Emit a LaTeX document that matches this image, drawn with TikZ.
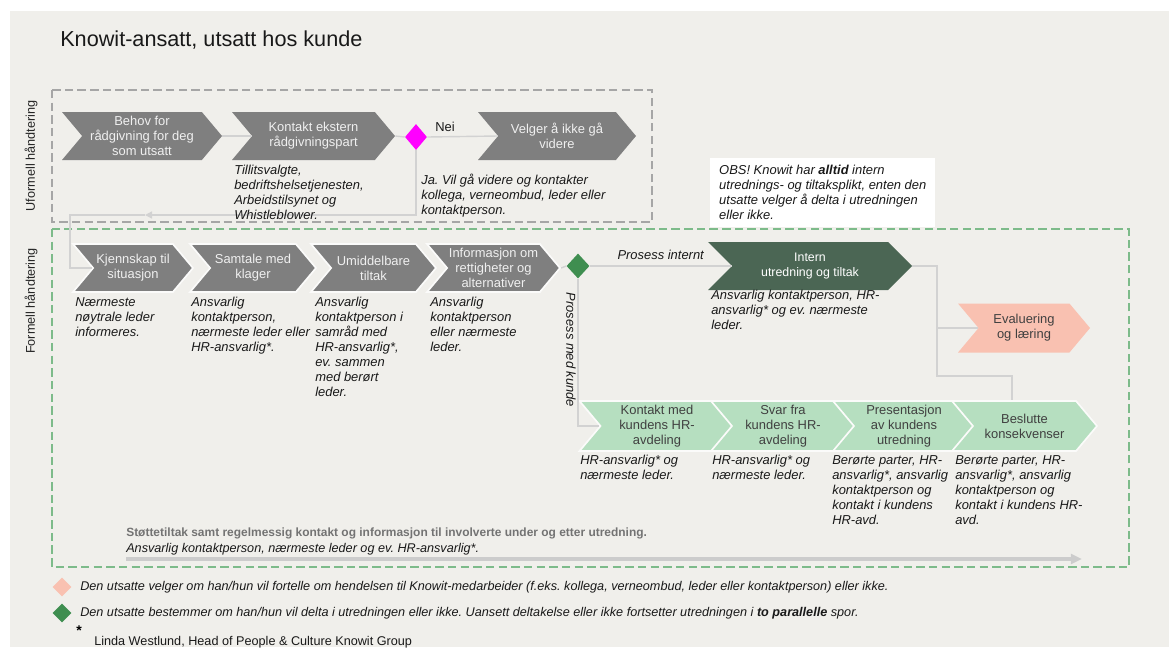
\documentclass[tikz,border=0pt]{standalone}
\usepackage{fontspec}
\setmainfont{Liberation Sans}
\usetikzlibrary{arrows.meta, shapes.symbols, shapes.geometric}
\frenchspacing

\definecolor{slide}{HTML}{F0EFEB}
\definecolor{chevgray}{HTML}{7F7F7F}
\definecolor{linegray}{HTML}{D2D2D2}
\definecolor{boxgray}{HTML}{A6A6A6}
\definecolor{boxgreen}{HTML}{7DBB8A}
\definecolor{darkgreen}{HTML}{4B6654}
\definecolor{mint}{HTML}{B6DFC0}
\definecolor{salmon}{HTML}{F9C1B1}
\definecolor{diagreen}{HTML}{3F8E50}
\definecolor{pink}{HTML}{FF00FF}

\def\pxu{0.025cm}
\newcommand{\boxfont}{\fontsize{9.2}{10.7}\selectfont}

\tikzset{
    chev/.style={shape=signal, signal from=west, signal to=east, signal pointer angle=100, minimum height=48*\pxu, inner sep=0pt, align=center, font=\boxfont}, % 定义箭头块的样式
    greychev/.style={chev, fill=chevgray, text=white!94!black},
    rowchev/.style={draw=white!75!slide, line width=1.2pt}, % 相邻箭头块之间的白色缝隙
    mintchev/.style={chev, rowchev, fill=mint, text=black!75, minimum height=50*\pxu},
    choice/.style={shape=diamond, inner sep=0pt, minimum width=23*\pxu, minimum height=25*\pxu}, % 定义菱形判断点
    flow/.style={draw=linegray, line width=1pt},
    note/.style={anchor=north west, inner sep=0pt, align=left, font=\boxfont\itshape, text=black!90}, % 定义说明文字的样式
    keytext/.style={anchor=west, inner sep=0pt, font=\fontsize{9}{11}\selectfont\itshape, text=black!90},
    sidelabel/.style={rotate=90, font=\fontsize{9}{11}\selectfont, text=black!85},
    dashbox/.style={dash pattern=on 6pt off 3pt, line width=1.1pt}
}

\begin{document}
\begin{tikzpicture}[x=\pxu, y=-\pxu]
    \def\W{1169} \def\H{647}
    \fill[white] (0,0) rectangle (\W,\H);
    \fill[slide] (10,11) rectangle (\W,\H);
    \useasboundingbox (0,0) rectangle (\W,\H);

    \node[anchor=west, inner sep=0pt, font=\fontsize{15.4}{18}\selectfont, text=black!90] (title) at (60,40) {Knowit-ansatt, utsatt hos kunde};

    \draw[dashbox, draw=boxgray] (52,90) rectangle (652,222);
    \draw[dashbox, draw=boxgreen] (52,229) rectangle (1129,567);
    \node[sidelabel] (informal) at (31,156) {Uformell håndtering};
    \node[sidelabel] (formal) at (31,301) {Formell håndtering};

    \node[greychev, minimum width=160*\pxu] (need) at (142,136) {Behov for\\rådgivning for deg\\som utsatt};
    \node[greychev, minimum width=163*\pxu] (ext) at (313.5,136) {Kontakt ekstern\\rådgivningspart};
    \node[choice, fill=pink, minimum height=26*\pxu, minimum width=22*\pxu] (tell) at (416,137) {};
    \node[greychev, minimum width=158*\pxu] (stop) at (557,136) {Velger å ikke gå\\videre};
    \node[font=\boxfont, text=black!90] (no) at (445,127) {Nei};

    \foreach \nm/\cx/\w/\txt in {k1/133/120/{Kjennskap til\\situasjon}, k2/253/126/{Samtale med\\klager}, k3/373.5/125/{Umiddelbare\\tiltak}, k4/493.5/133/{Informasjon om\\rettigheter og\\alternativer}}
        {\node[greychev, rowchev, minimum width=\w*\pxu] (\nm) at (\cx,268) {\txt};}
    \node[choice, fill=diagreen] (part) at (578,266) {};

    \node[chev, fill=darkgreen, text=white, signal pointer angle=90, minimum width=204*\pxu, font=\fontsize{8.8}{10.5}\selectfont] (intern) at (810,266) {Intern\\utredning og tiltak};
    \node[chev, fill=salmon, text=black!75, minimum width=132*\pxu, minimum height=49*\pxu] (eval) at (1024,328) {Evaluering\\og læring};

    \foreach \nm/\cx/\w/\txt in {l1/657/155/{Kontakt med\\kundens HR-\\avdeling}, l2/783/144/{Svar fra\\kundens HR-\\avdeling}, l3/904/142/{Presentasjon\\av kundens\\utredning}, l4/1024.5/145/{Beslutte\\konsekvenser}}
        {\node[mintchev, minimum width=\w*\pxu] (\nm) at (\cx,426) {\txt};}

    \coordinate (back) at (145,215);
    \coordinate (turn) at (70,268);
    \coordinate (fork) at (937,328);
    \coordinate (merge) at (1012,376);
    \draw[flow] (need.east) -- (ext.west);
    \draw[flow] (ext.east) -- (tell.west);
    \draw[flow] (tell.east) -- (stop.west);
    \draw[flow, -{Triangle[length=5pt, width=5pt]}] (tell.south) |- (back);
    \draw[flow] (back) -| (turn) -- (k1.west);
    \draw[flow] (k4.east) -- (part.west);
    \draw[flow] (part.east) -- (intern.west) node[midway, above=1pt, font=\boxfont\itshape, text=black!90] (inside) {Prosess internt};
    \draw[flow] (part.south) |- (l1.west);
    \node[rotate=-90, font=\boxfont\itshape, text=black!90] (outside) at (571,350) {Prosess med kunde};
    \draw[flow] (intern.east) -| (fork) -- (eval.west);
    \draw[flow] (fork) |- (merge) -- (merge |- l4.north);

    \node[note] (extnote) at (234,165) {Tillitsvalgte,\\bedriftshelsetjenesten,\\Arbeidstilsynet og\\Whistleblower.};
    \node[note] (yesnote) at (421,174) {Ja. Vil gå videre og kontakter\\kollega, verneombud, leder eller\\kontaktperson.};

    \foreach \nm/\x/\txt in {n1/75/{Nærmeste\\nøytrale leder\\informeres.}, n2/191/{Ansvarlig\\kontaktperson,\\nærmeste leder eller\\HR-ansvarlig*.}, n3/315/{Ansvarlig\\kontaktperson i\\samråd med\\HR-ansvarlig*,\\ev. sammen\\med berørt\\leder.}, n4/430/{Ansvarlig\\kontaktperson\\eller nærmeste\\leder.}}
        {\node[note] (\nm) at (\x,297) {\txt};}
    \node[note] (internnote) at (711,290) {Ansvarlig kontaktperson, HR-\\ansvarlig* og ev. nærmeste\\leder.};
    \foreach \nm/\x/\txt in {m1/580/{HR-ansvarlig* og\\nærmeste leder.}, m2/712/{HR-ansvarlig* og\\nærmeste leder.}, m3/832/{Berørte parter, HR-\\ansvarlig*, ansvarlig\\kontaktperson og\\kontakt i kundens\\HR-avd.}, m4/955/{Berørte parter, HR-\\ansvarlig*, ansvarlig\\kontaktperson og\\kontakt i kundens HR-\\avd.}}
        {\node[note] (\nm) at (\x,455) {\txt};}

    \node[anchor=north west, fill=white, minimum width=225*\pxu, minimum height=69*\pxu, inner sep=0pt, align=left, font=\boxfont\itshape, text=black!90] (obs) at (710,158) {OBS! Knowit har \textbf{alltid} intern\\utrednings- og tiltaksplikt, enten den\\utsatte velger å delta i utredningen\\eller ikke.};

    \node[anchor=west, inner sep=0pt, font=\fontsize{8.5}{10}\selectfont\bfseries, text=black!55] (support) at (126,533) {Støttetiltak samt regelmessig kontakt og informasjon til involverte under og etter utredning.};
    \node[anchor=west, inner sep=0pt, font=\fontsize{9}{11}\selectfont\itshape, text=black!90] (supportwho) at (126,549) {Ansvarlig kontaktperson, nærmeste leder og ev. HR-ansvarlig*.};
    \coordinate (railstart) at (126,559);
    \coordinate (railend) at (1082,559);
    \draw[line width=2.8pt, draw=black!20, -{Triangle[length=8pt, width=7pt]}] (railstart) -- (railend);

    \node[choice, fill=salmon, minimum width=19*\pxu, minimum height=19*\pxu] (tellkey) at (62,587) {};
    \node[keytext] (telltext) at (80,587) {Den utsatte velger om han/hun vil fortelle om hendelsen til Knowit-medarbeider (f.eks. kollega, verneombud, leder eller kontaktperson) eller ikke.};
    \node[choice, fill=diagreen, minimum width=19*\pxu, minimum height=19*\pxu] (partkey) at (62,613) {};
    \node[keytext] (parttext) at (80,613) {Den utsatte bestemmer om han/hun vil delta i utredningen eller ikke. Uansett deltakelse eller ikke fortsetter utredningen i \textbf{to parallelle} spor.};
    \node[font=\fontsize{10}{12}\selectfont\bfseries] (star) at (79,631) {*};
    \node[anchor=west, inner sep=0pt, font=\fontsize{9}{11}\selectfont, text=black!90] (credit) at (94,642) {Linda Westlund, Head of People \& Culture Knowit Group};
\end{tikzpicture}
\end{document}
